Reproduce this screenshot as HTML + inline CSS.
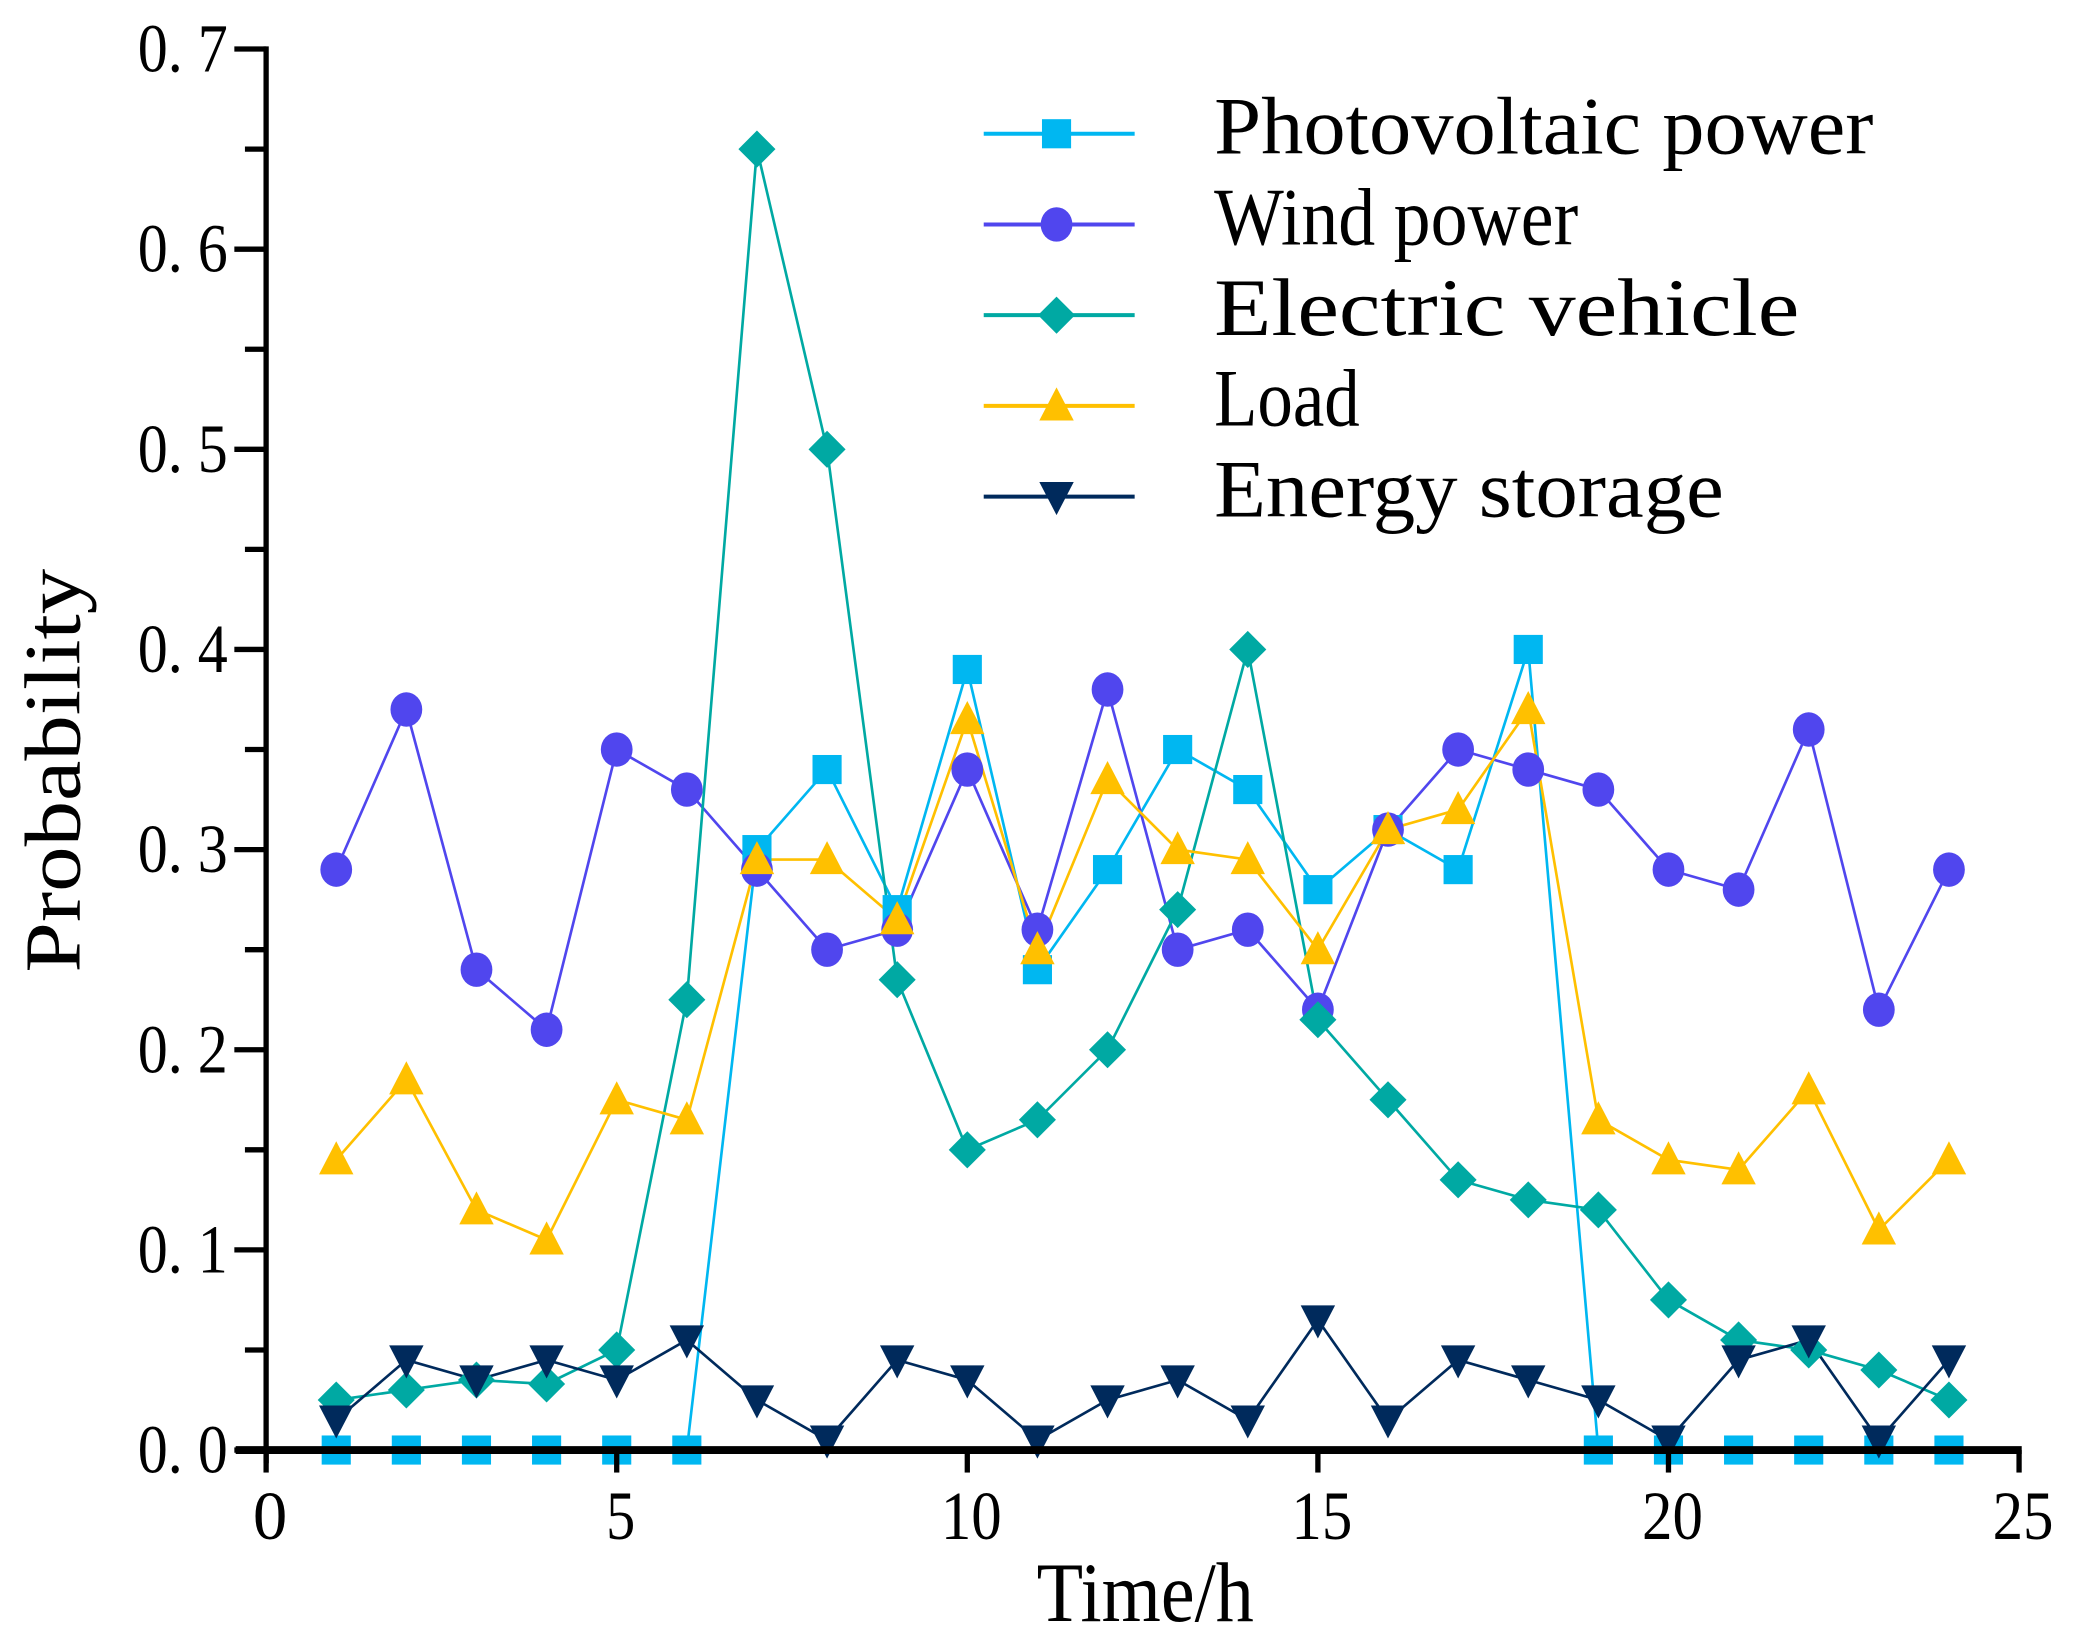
<!DOCTYPE html>
<html><head><style>html,body{margin:0;padding:0;background:#fff}svg{display:block}</style></head><body>
<svg width="2076" height="1650" viewBox="0 0 1568 1246" preserveAspectRatio="none" xmlns="http://www.w3.org/2000/svg" font-family="Liberation Serif, serif">
<defs>
<g id="sq"><rect x="-11" y="-11" width="22" height="22"/></g>
<g id="ci"><ellipse cx="0" cy="0" rx="12" ry="13"/></g>
<g id="di"><polygon points="0,-14 14,0 0,14 -14,0"/></g>
<g id="tu"><polygon points="0,-14 13,11 -13,11"/></g>
<g id="td"><polygon points="0,14 13,-11 -13,-11"/></g>
</defs>
<g id="plot"></g>
<g stroke="#000" stroke-width="4" fill="none">
<line x1="201" y1="35" x2="201" y2="1105"/>
<line x1="178" y1="1095" x2="1527" y2="1095" stroke-width="6"/>
</g>
<g id="ticks" stroke="#000" stroke-width="4"></g>
<g font-size="52" text-anchor="end" id="ylab"></g>
<g font-size="52" text-anchor="middle" id="xlab"></g>
<text x="865" y="1224" font-size="64" text-anchor="middle" textLength="164" lengthAdjust="spacingAndGlyphs">Time/h</text>
<text transform="translate(60,582) rotate(-90)" font-size="60" text-anchor="middle" textLength="305" lengthAdjust="spacingAndGlyphs">Probability</text>
<g id="legend"></g>
<script>
const NS="http://www.w3.org/2000/svg";
const X=v=>201+v*52.96, Y=v=>1095-v*1511.4;
function el(t,a,p,txt){const e=document.createElementNS(NS,t);for(const k in a)e.setAttribute(k,a[k]);if(txt!=null)e.textContent=txt;document.getElementById(p).appendChild(e);return e;}
for(let i=0;i<=14;i++){const y=Y(i*0.05);const major=i%2==0;el('line',{x1:major?177:185,y1:y,x2:201,y2:y},'ticks');}
for(let i=0;i<=7;i++){el('text',{x:172,y:Y(i*0.1)+17,textLength:68,lengthAdjust:'spacingAndGlyphs'},'ylab','0. '+i);}
for(let i=0;i<=5;i++){const x=X(i*5);el('line',{x1:x,y1:1095,x2:x,y2:1112},'ticks');const a={x:x+3,y:1162};if(i>0){a.textLength=i==1?22:46;a.lengthAdjust='spacingAndGlyphs';}el('text',a,'xlab',String(i*5));}
const S=[
 {c:'#00B7F1',m:'sq',d:[0,0,0,0,0,0,0.30,0.34,0.27,0.39,0.24,0.29,0.35,0.33,0.28,0.31,0.29,0.40,0,0,0,0,0,0],n:'Photovoltaic power',w:498},
 {c:'#5046EE',m:'ci',d:[0.29,0.37,0.24,0.21,0.35,0.33,0.29,0.25,0.26,0.34,0.26,0.38,0.25,0.26,0.22,0.31,0.35,0.34,0.33,0.29,0.28,0.36,0.22,0.29],n:'Wind power',w:275},
 {c:'#00A9A3',m:'di',d:[0.025,0.03,0.035,0.033,0.05,0.225,0.65,0.50,0.235,0.15,0.165,0.20,0.27,0.40,0.215,0.175,0.135,0.125,0.12,0.075,0.055,0.05,0.04,0.025],n:'Electric vehicle',w:442},
 {c:'#FFC000',m:'tu',d:[0.145,0.185,0.12,0.105,0.175,0.165,0.295,0.295,0.265,0.365,0.25,0.335,0.30,0.295,0.25,0.31,0.32,0.37,0.165,0.145,0.14,0.18,0.11,0.145],n:'Load',w:110},
 {c:'#002A5C',m:'td',d:[0.015,0.045,0.035,0.045,0.035,0.055,0.025,0.005,0.045,0.035,0.005,0.025,0.035,0.015,0.065,0.015,0.045,0.035,0.025,0.005,0.045,0.055,0.005,0.045],n:'Energy storage',w:385}
];
S.forEach(s=>{
 const pts=s.d.map((v,i)=>X(i+1)+','+Y(v)).join(' ');
 el('polyline',{points:pts,fill:'none',stroke:s.c,'stroke-width':2},'plot');
});
S.forEach((s,k)=>{
 s.d.forEach((v,i)=>el('use',{href:'#'+s.m,x:X(i+1),y:Y(v),fill:s.c},'plot'));
 const ly=101+k*68.5;
 el('line',{x1:743,y1:ly,x2:857,y2:ly,stroke:s.c,'stroke-width':3},'legend');
 el('use',{href:'#'+s.m,x:798,y:ly,fill:s.c},'legend');
 el('text',{x:917,y:ly+15,'font-size':62,textLength:s.w,lengthAdjust:'spacingAndGlyphs'},'legend',s.n);
});
</script>
</svg>
</body></html>
